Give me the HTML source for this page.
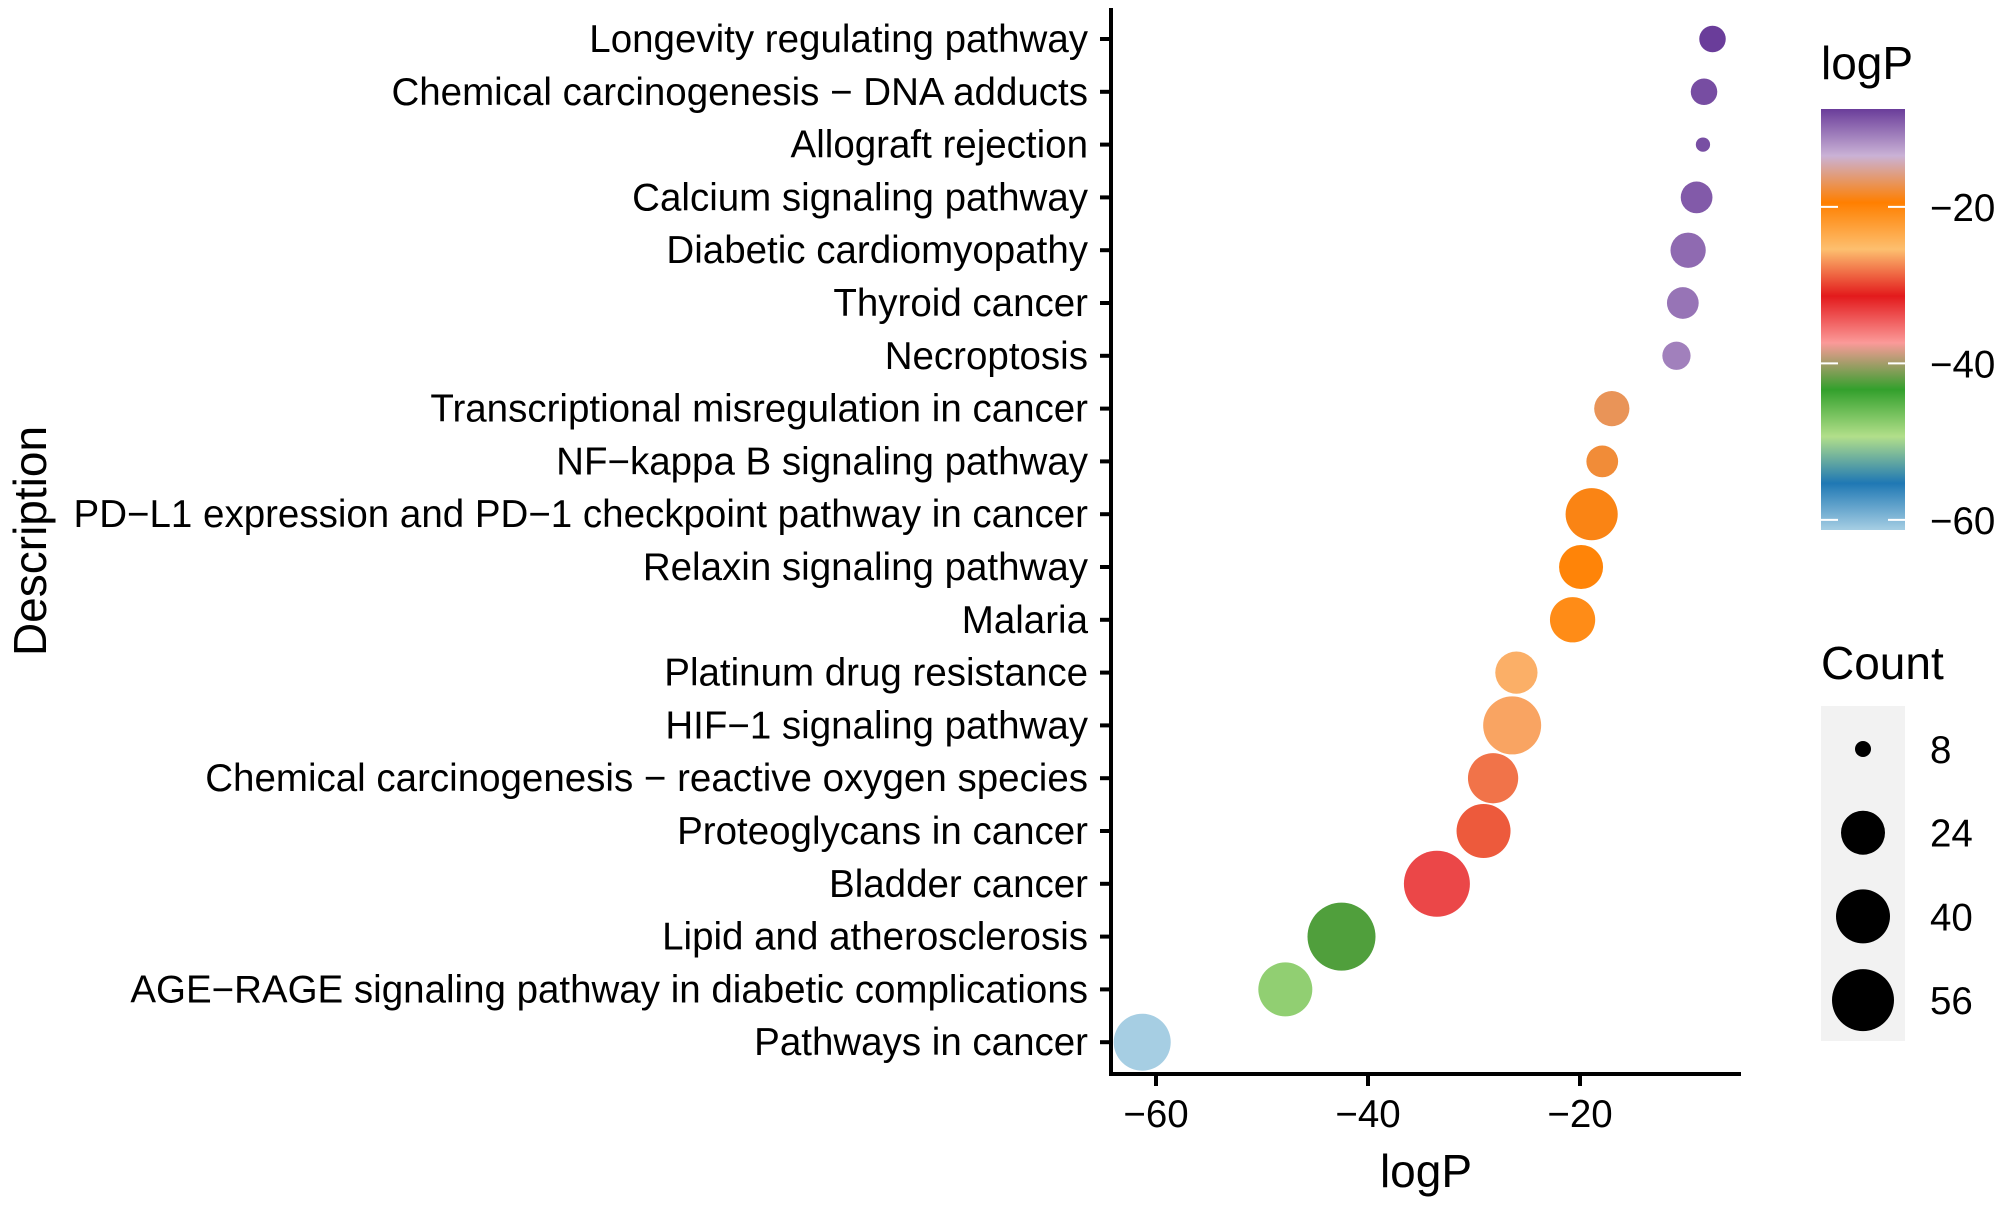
<!DOCTYPE html>
<html><head><meta charset="utf-8"><style>
html,body{margin:0;padding:0;background:#fff}
svg text{font-family:"Liberation Sans",Arial,sans-serif;fill:#000}
</style></head><body>
<svg id="chart" width="2000" height="1201" viewBox="0 0 2000 1201" xmlns="http://www.w3.org/2000/svg">
<defs><linearGradient id="cbar" x1="0" y1="1" x2="0" y2="0"></linearGradient></defs>
<g id="plot"></g>
<g id="legend"></g>
</svg>
<script>
const categories = ["Longevity regulating pathway","Chemical carcinogenesis \u2212 DNA adducts","Allograft rejection","Calcium signaling pathway","Diabetic cardiomyopathy","Thyroid cancer","Necroptosis","Transcriptional misregulation in cancer","NF\u2212kappa B signaling pathway","PD\u2212L1 expression and PD\u22121 checkpoint pathway in cancer","Relaxin signaling pathway","Malaria","Platinum drug resistance","HIF\u22121 signaling pathway","Chemical carcinogenesis \u2212 reactive oxygen species","Proteoglycans in cancer","Bladder cancer","Lipid and atherosclerosis","AGE\u2212RAGE signaling pathway in diabetic complications","Pathways in cancer"];
const logPValues = [-7.5,-8.3,-8.4,-9.0,-9.8,-10.3,-10.9,-17.0,-17.9,-18.9,-19.9,-20.7,-26.0,-26.4,-28.2,-29.1,-33.5,-42.5,-47.8,-61.3];
const countValues = [14,14,7,17,19,17,15,19,17,37,24,26,23,48,34,40,64,68,40,46];
const xTicks = [-60,-40,-20];
const colorTicks = [-20,-40,-60];
const sizeLegendCounts = [8,24,40,56];
const paletteStops = ["#a6cee3","#1f78b4","#b2df8a","#33a02c","#fb9a99","#e31a1c","#fdbf6f","#ff7f00","#cab2d6","#6a3d9a"];

const NS="http://www.w3.org/2000/svg";
function mk(tag,attrs,parent){const e=document.createElementNS(NS,tag);for(const k in attrs)e.setAttribute(k,attrs[k]);parent.appendChild(e);return e;}
const plot=document.getElementById('plot'), legend=document.getElementById('legend');
const xS=v=>1580+(v+20)*10.6;
const yS=i=>39+i*52.8;
const sizeR=[8,22,27,31];
function rS(c){const d=sizeLegendCounts;let i=0;if(c>d[1])i=c>d[2]?2:1;const t=(c-d[i])/(d[i+1]-d[i]);return Math.max(3,sizeR[i]+t*(sizeR[i+1]-sizeR[i]));}
const cMin=Math.min(...logPValues), cMax=Math.max(...logPValues);
function hex(h){return [1,3,5].map(i=>parseInt(h.substr(i,2),16));}
function colS(v){let t=(v-cMin)/(cMax-cMin);t=Math.max(0,Math.min(1,t));const p=t*(paletteStops.length-1);const i=Math.min(Math.floor(p),paletteStops.length-2);const f=p-i;const a=hex(paletteStops[i]),b=hex(paletteStops[i+1]);return 'rgb('+a.map((x,k)=>Math.round(x+(b[k]-x)*f)).join(',')+')';}

const yAxis=mk('line',{x1:1111,y1:8,x2:1111,y2:1076,stroke:'#000','stroke-width':4},plot);

const xAxis=mk('line',{x1:1109,y1:1074,x2:1741,y2:1074,stroke:'#000','stroke-width':4},plot);


categories.forEach((c,i)=>{
  const y=yS(i);
  const t=mk('line',{x1:1100,y1:y,x2:1111,y2:y,stroke:'#000','stroke-width':4},plot);
  
  const l=mk('text',{x:1088,y:y+13,'text-anchor':'end','font-size':38.5},plot);l.textContent=c;
  
});
xTicks.forEach(v=>{
  const x=xS(v);
  const t=mk('line',{x1:x,y1:1074,x2:x,y2:1086,stroke:'#000','stroke-width':4},plot);
  
  const l=mk('text',{x:x,y:1127,'text-anchor':'middle','font-size':38.5},plot);l.textContent=String(v).replace('-','\u2212');
  
});
const xt=mk('text',{x:1426,y:1187,'text-anchor':'middle','font-size':46},plot);xt.textContent='logP';

const yt=mk('text',{x:0,y:0,'text-anchor':'middle','font-size':46,transform:'translate(46,541) rotate(-90)'},plot);yt.textContent='Description';


logPValues.forEach((v,i)=>{
  const d=mk('circle',{cx:xS(v),cy:yS(i),r:rS(countValues[i]),fill:colS(v)},plot);
  
  
});

const lt=mk('text',{x:1821,y:79,'font-size':46},legend);lt.textContent='logP';

const grad=document.getElementById('cbar');
paletteStops.forEach((c,i)=>{mk('stop',{offset:(i/(paletteStops.length-1)),'stop-color':c},grad);});
const barTop=109,barBot=530;
const cbY=v=>barBot-(v-cMin)/(cMax-cMin)*(barBot-barTop);
const bar=mk('rect',{x:1821,y:barTop,width:84,height:barBot-barTop,fill:'url(#cbar)'},legend);

colorTicks.forEach(v=>{
  const y=cbY(v);
  mk('line',{x1:1821,y1:y,x2:1838,y2:y,stroke:'#fff','stroke-width':2},legend);
  mk('line',{x1:1888,y1:y,x2:1905,y2:y,stroke:'#fff','stroke-width':2},legend);
  const l=mk('text',{x:1930,y:y+14,'font-size':38.5},legend);l.textContent=String(v).replace('-','\u2212');
  
});

const st=mk('text',{x:1821,y:679,'font-size':46},legend);st.textContent='Count';

const bg=mk('rect',{x:1821,y:706,width:84,height:335,fill:'#f2f2f2'},legend);

sizeLegendCounts.forEach((c,i)=>{
  const y=749+i*83.7;
  const k=mk('circle',{cx:1863,cy:y,r:rS(c),fill:'#000'},legend);
  
  const l=mk('text',{x:1930,y:y+14,'font-size':38.5},legend);l.textContent=String(c);
  
});
</script>
</body></html>
